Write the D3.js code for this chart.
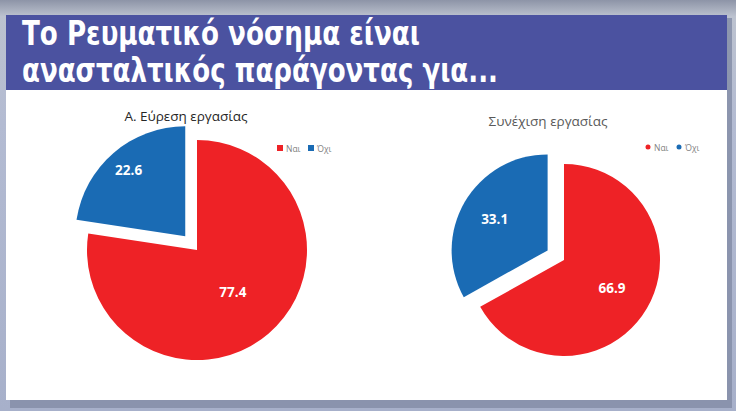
<!DOCTYPE html>
<html>
<head>
<meta charset="utf-8">
<script src="https://cdn.jsdelivr.net/npm/d3@7"></script>
<style>
  html, body { margin: 0; padding: 0; background: #aab2c8; }
  svg { display: block; }
</style>
</head>
<body>
<div id="chart"></div>
<script>
// Data
const categories = ["Ναι", "Όχι"];
const chartTitles = ["Α. Εύρεση εργασίας", "Συνέχιση εργασίας"];
const findWork = [77.4, 22.6];
const keepWork = [66.9, 33.1];
const headline = ["Το Ρευματικό νόσημα είναι", "ανασταλτικός παράγοντας για..."];

const colors = d3.scaleOrdinal().domain(categories).range(["#ee2226", "#1a6bb4"]);

const width = 736, height = 411;

const svg = d3.select("#chart")
    .append("svg")
    .attr("width", width)
    .attr("height", height);

// Background and slide frame
const defs = svg.append("defs");
const bgGrad = defs.append("linearGradient")
    .attr("id", "bg").attr("x1", 0).attr("y1", 0).attr("x2", 0).attr("y2", 1);
bgGrad.append("stop").attr("offset", "0%").attr("stop-color", "#8d94a7");
bgGrad.append("stop").attr("offset", "4%").attr("stop-color", "#bcc2cf");
bgGrad.append("stop").attr("offset", "30%").attr("stop-color", "#b3bbd2");
bgGrad.append("stop").attr("offset", "100%").attr("stop-color", "#a7b0ca");

svg.append("rect").attr("width", width).attr("height", height).attr("fill", "url(#bg)");
// shadow
svg.append("rect").attr("x", 10).attr("y", 18).attr("width", 722).attr("height", 390)
    .attr("fill", "#858ea8").attr("opacity", 0.85);
svg.append("rect").attr("x", 6).attr("y", 15).attr("width", 721).attr("height", 385)
    .attr("fill", "#ffffff");
svg.append("rect").attr("x", 6).attr("y", 15).attr("width", 721).attr("height", 75)
    .attr("fill", "#4b52a0");

// Headline
const headText = svg.append("g")
    .attr("fill", "#ffffff")
    .style("font-family", "'DejaVu Sans Condensed', 'DejaVu Sans', sans-serif")
    .style("font-weight", "bold")
    .style("font-size", "33px");
headText.append("text").attr("x", 22).attr("y", 45)
    .attr("textLength", 398).attr("lengthAdjust", "spacingAndGlyphs")
    .text(headline[0]);
headText.append("text").attr("x", 22).attr("y", 82)
    .attr("textLength", 476).attr("lengthAdjust", "spacingAndGlyphs")
    .text(headline[1]);

// Pie layouts
const charts = [
    { values: findWork, title: chartTitles[0], titleColor: "#262626", cx: 197, cy: 250, r: 110,
      explode: 18, titleX: 186, titleY: 116, legendX: 280, legendY: 148, marker: "square",
      labelR: [0.5, 0.79] },
    { values: keepWork, title: chartTitles[1], titleColor: "#595959", cx: 564, cy: 260, r: 96,
      explode: 19, titleX: 548, titleY: 121, legendX: 648, legendY: 147, marker: "circle",
      labelR: [0.58, 0.64] }
];

const pie = d3.pie().sort(null).value(d => d);

charts.forEach(c => {
    const g = svg.append("g").attr("transform", `translate(${c.cx},${c.cy})`);
    const arcs = pie(c.values);
    const arc = d3.arc().innerRadius(0).outerRadius(c.r);

    // second slice is pulled out along its bisector
    const slice = g.selectAll("g.slice")
        .data(arcs)
        .join("g")
        .attr("class", "slice")
        .attr("transform", (d, i) => {
            if (i === 0) return null;
            const a = (d.startAngle + d.endAngle) / 2;
            return `translate(${Math.sin(a) * c.explode},${-Math.cos(a) * c.explode})`;
        });

    slice.append("path")
        .attr("d", arc)
        .attr("fill", (d, i) => colors(categories[i]));

    slice.append("text")
        .attr("transform", (d, i) => {
            const lr = c.r * c.labelR[i];
            return `translate(${d3.arc().innerRadius(lr).outerRadius(lr).centroid(d)})`;
        })
        .attr("text-anchor", "middle")
        .attr("dominant-baseline", "central")
        .attr("fill", "#ffffff")
        .style("font-family", "'Open Sans', sans-serif")
        .style("font-weight", "bold")
        .style("font-size", "13.5px")
        .text(d => d.data.toFixed(1));

    // Title
    svg.append("text")
        .attr("x", c.titleX).attr("y", c.titleY)
        .attr("text-anchor", "middle")
        .attr("dominant-baseline", "central")
        .attr("fill", c.titleColor)
        .style("font-family", "'Open Sans', sans-serif")
        .style("font-size", "13.5px")
        .text(c.title);

    // Legend
    const leg = svg.append("g").attr("transform", `translate(${c.legendX},${c.legendY})`);
    const item = leg.selectAll("g")
        .data(categories)
        .join("g")
        .attr("transform", (d, i) => `translate(${i * 31},0)`);
    if (c.marker === "square") {
        item.append("rect").attr("x", -3).attr("y", -3).attr("width", 6).attr("height", 6)
            .attr("fill", d => colors(d));
    } else {
        item.append("circle").attr("r", 2.5).attr("fill", d => colors(d));
    }
    item.append("text")
        .attr("x", 6).attr("dominant-baseline", "central")
        .attr("fill", "#7f7f7f")
        .style("font-family", "'Open Sans', sans-serif")
        .style("font-size", "8.5px")
        .text(d => d);
});
</script>
</body>
</html>
